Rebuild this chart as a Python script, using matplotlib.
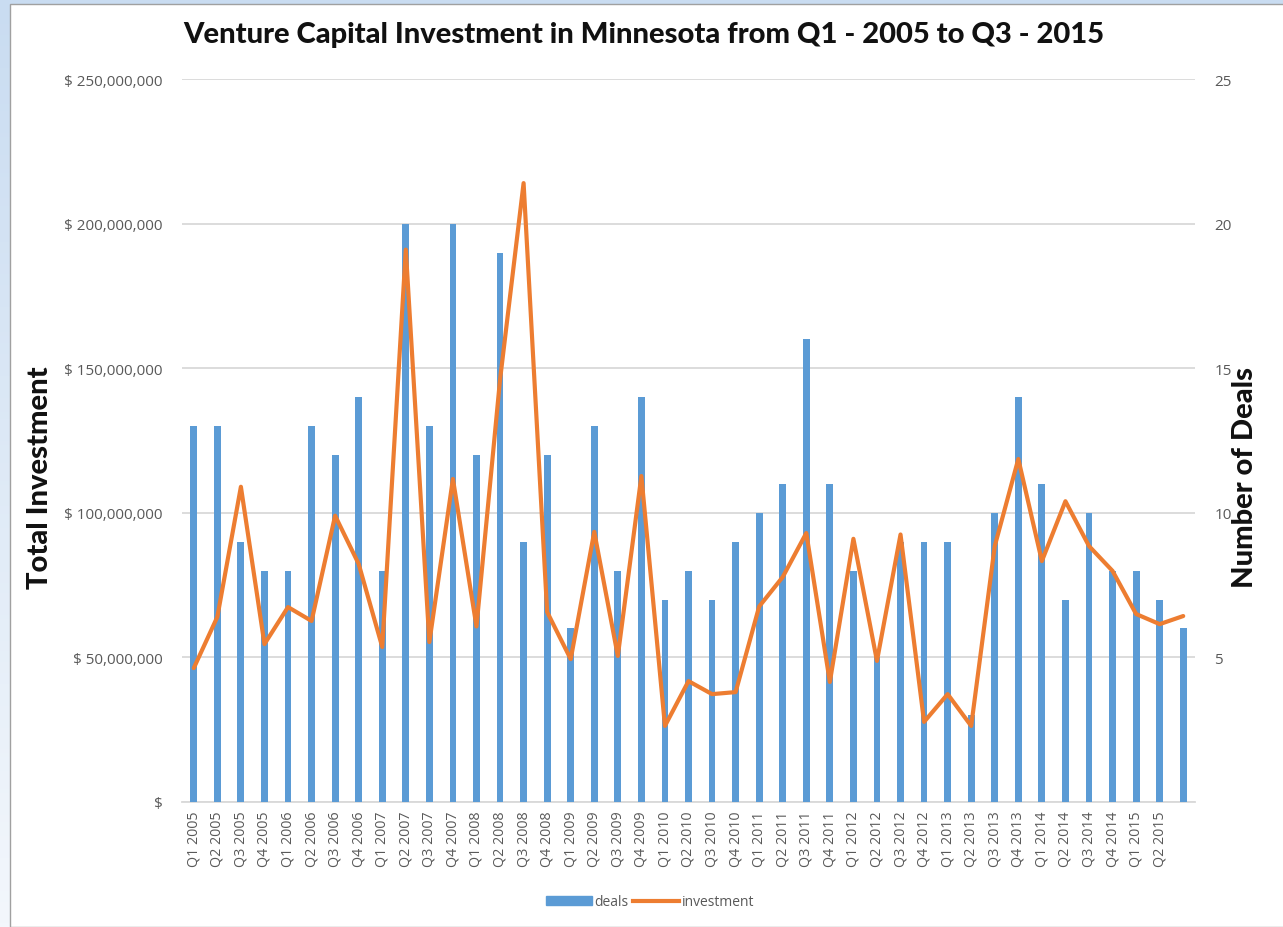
import matplotlib
matplotlib.use("Agg")
import matplotlib.pyplot as plt
import numpy as np
from matplotlib.ticker import FuncFormatter, MultipleLocator
from matplotlib.patches import Rectangle
from matplotlib.lines import Line2D

# ---- data ----
quarter_labels = [
    "Q1 2005", "Q2 2005", "Q3 2005", "Q4 2005",
    "Q1 2006", "Q2 2006", "Q3 2006", "Q4 2006",
    "Q1 2007", "Q2 2007", "Q3 2007", "Q4 2007",
    "Q1 2008", "Q2 2008", "Q3 2008", "Q4 2008",
    "Q1 2009", "Q2 2009", "Q3 2009", "Q4 2009",
    "Q1 2010", "Q2 2010", "Q3 2010", "Q4 2010",
    "Q1 2011", "Q2 2011", "Q3 2011", "Q4 2011",
    "Q1 2012", "Q2 2012", "Q3 2012", "Q4 2012",
    "Q1 2013", "Q2 2013", "Q3 2013", "Q4 2013",
    "Q1 2014", "Q2 2014", "Q3 2014", "Q4 2014",
    "Q1 2015", "Q2 2015", "",
]
deals = [13, 13, 9, 8, 8, 13, 12, 14, 8, 20,
         13, 20, 12, 19, 9, 12, 6, 13, 8, 14,
         7, 8, 7, 9, 10, 11, 16, 11, 8, 5,
         9, 9, 9, 3, 10, 14, 11, 7, 10, 8,
         8, 7, 6]
investment_musd = [46.3, 64.0, 109.0, 54.6, 67.4, 62.6, 99.0, 82.3, 53.6, 191.0,
                   55.3, 111.7, 60.7, 146.0, 214.0, 65.7, 49.4, 93.4, 50.5, 112.7,
                   26.3, 41.8, 37.3, 38.0, 67.6, 77.8, 93.0, 41.5, 91.0, 48.8,
                   92.5, 27.7, 37.3, 26.3, 88.5, 118.6, 83.3, 104.0, 88.5, 79.9,
                   65.0, 61.5, 64.3]
investment = [v * 1e6 for v in investment_musd]

title = "Venture Capital Investment in Minnesota from Q1 - 2005 to Q3 - 2015"

BLUE = "#5B9BD5"
ORANGE = "#ED7D31"
GRAY = "#595959"
GRID = "#D9D9D9"

fig = plt.figure(figsize=(12.83, 9.28), dpi=100)
fig.patch.set_facecolor("#dfeaf6")

# background gradient
bg = fig.add_axes([0, 0, 1, 1], zorder=-10)
grad = np.linspace(0, 1, 256).reshape(-1, 1)
bg.imshow(grad, aspect="auto", cmap=matplotlib.colors.LinearSegmentedColormap.from_list(
    "bgc", ["#c9dcf1", "#f3f7fc"]), extent=[0, 1, 0, 1], origin="upper")
bg.set_axis_off()
bg.add_patch(Rectangle((10 / 1283, 0), 1.0, (928 - 5) / 928, transform=bg.transAxes,
                       facecolor="white", edgecolor="#a0a0a0", linewidth=1.0))

left, right = 182 / 1283, 1195 / 1283
bottom, top = 1 - 803 / 928, 1 - 80 / 928
ax2 = fig.add_axes([left, bottom, right - left, top - bottom])  # deals (right)
ax = fig.add_axes([left, bottom, right - left, top - bottom], sharex=ax2)  # investment (left)
ax.set_zorder(ax2.get_zorder() + 1)
ax.patch.set_visible(False)
ax2.patch.set_visible(False)

x = np.arange(len(deals))

# bars (deals) on right axis
ax2.bar(x, deals, width=0.29, color=BLUE, zorder=3, label="deals")
ax2.set_ylim(0, 25)
ax2.yaxis.set_major_locator(MultipleLocator(5))
ax2.yaxis.tick_right()
ax2.yaxis.set_label_position("right")
ax2.grid(axis="y", color=GRID, linewidth=1.3, zorder=0)
ax2.set_axisbelow(True)
ax2.yaxis.set_major_formatter(FuncFormatter(lambda v, p: "" if v == 0 else f"{int(v)}"))
for s in ["top", "left", "right"]:
    ax2.spines[s].set_visible(False)
ax2.spines["bottom"].set_color(GRID)
ax2.spines["bottom"].set_linewidth(1.3)
ax2.tick_params(axis="y", length=0, pad=14, labelcolor=GRAY, labelsize=11)
ax2.set_xlim(-0.5, len(deals) - 0.5)
ax2.set_xticks(x)
ax2.set_xticklabels(quarter_labels, rotation=90, color=GRAY, fontsize=10.3)
ax2.tick_params(axis="x", length=0, pad=6)

# line (investment) on left axis
ax.plot(x, investment, color=ORANGE, linewidth=3.0, solid_joinstyle="round",
        solid_capstyle="round", label="investment", zorder=5)
ax.set_ylim(0, 250e6)
ax.yaxis.set_major_locator(MultipleLocator(50e6))
ax.yaxis.set_major_formatter(FuncFormatter(
    lambda v, p: "$" if v == 0 else "$ " + f"{int(v):,}"))
ax.tick_params(axis="y", length=0, pad=14, labelcolor=GRAY, labelsize=11)
ax.tick_params(axis="x", bottom=False, labelbottom=False)
for s in ax.spines.values():
    s.set_visible(False)

for lbl in ax.get_yticklabels() + ax2.get_yticklabels() + ax2.get_xticklabels():
    lbl.set_fontfamily("Open Sans")

fig.text(644 / 1283, 1 - 35 / 928, title, ha="center", va="center",
         fontsize=21, fontweight=900, family="Lato", color="#111111")
fig.text(40 / 1283, 1 - 478 / 928, "Total Investment", rotation=90, ha="center",
         va="center", fontsize=21, fontweight=900, family="Lato", color="#111111")
fig.text(1245 / 1283, 1 - 478 / 928, "Number of Deals", rotation=90, ha="center",
         va="center", fontsize=21, fontweight=900, family="Lato", color="#111111")

handles = [Rectangle((0, 0), 1, 1, color=BLUE),
           Line2D([0], [0], color=ORANGE, linewidth=3.0)]
leg = fig.legend(handles, ["deals", "investment"], loc="center",
                 bbox_to_anchor=(650 / 1283, 1 - 903 / 928), ncol=2, frameon=False,
                 handlelength=3.3, handleheight=0.6, columnspacing=0.3, handletextpad=0.2,
                 prop={"family": "Open Sans", "size": 10})
for t in leg.get_texts():
    t.set_color(GRAY)

fig.savefig("out.png", dpi=100)
